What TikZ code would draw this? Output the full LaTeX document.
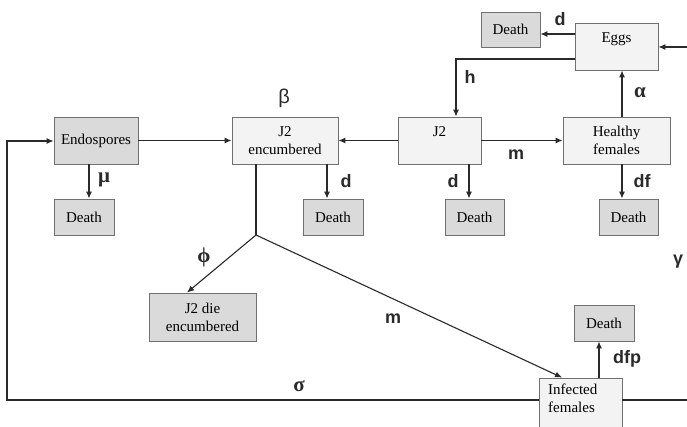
\documentclass[tikz,border=0pt]{standalone}
\usepackage{fontspec}
\setmainfont{Liberation Serif}
\newfontfamily\lblfont{Liberation Sans}
\usetikzlibrary{arrows.meta}
\definecolor{boxlight}{HTML}{F3F3F3}
\definecolor{boxdark}{HTML}{DADADA}
\definecolor{boxline}{HTML}{707070}
\definecolor{ink}{HTML}{2A2A2A}
\begin{document}
\begin{tikzpicture}[x=1pt,y=-1pt,
  box/.style={draw=boxline,line width=0.9pt,fill=boxlight,align=center,
    font=\fontsize{15}{18}\selectfont,inner sep=0pt},
  deadbox/.style={box,fill=boxdark},
  arr/.style={draw=ink,line width=1.1pt,-{Latex[length=7pt,width=6pt]}},
  ln/.style={draw=ink,line width=1.1pt},
  rate/.style={font=\lblfont\bfseries\fontsize{18}{18}\selectfont,text=ink,inner sep=0pt},
  srate/.style={font=\lblfont\fontsize{20}{20}\selectfont,text=ink,inner sep=0pt},
  grate/.style={font=\bfseries\fontsize{21}{21}\selectfont,text=ink,inner sep=0pt}]
\clip (0,0) rectangle (687,426);
\fill[white] (0,0) rectangle (687,426);

% compartments
\node[box,minimum width=83pt,minimum height=47pt] (eggs) at (616.5,46.5) {Eggs\\\mbox{}};
\node[deadbox,minimum width=59pt,minimum height=35pt] (dtop) at (510.5,29.5) {Death};
\node[deadbox,minimum width=84pt,minimum height=47pt] (endo) at (96,140.5) {Endospores};
\node[deadbox,minimum width=60pt,minimum height=36pt] (dendo) at (84,217) {Death};
\node[box,minimum width=106pt,minimum height=47pt] (j2enc) at (285,140.5) {J2\\encumbered};
\node[deadbox,minimum width=60pt,minimum height=36pt] (denc) at (333,217) {Death};
\node[box,minimum width=83pt,minimum height=47pt] (j2) at (439.5,140.5) {J2\\\mbox{}};
\node[deadbox,minimum width=59pt,minimum height=36pt] (dj2) at (474.5,217) {Death};
\node[box,minimum width=107pt,minimum height=47pt] (hf) at (616.5,140.5) {Healthy\\females};
\node[deadbox,minimum width=59pt,minimum height=36pt] (dhf) at (628.5,217) {Death};
\node[deadbox,minimum width=107pt,minimum height=48pt] (j2die) at (202.5,317) {J2 die\\encumbered};
\node[deadbox,minimum width=60pt,minimum height=36pt] (dinf) at (604,323) {Death};
\node[box,minimum width=83pt,minimum height=70pt] (inf) at (580.5,413) {};
\node[font=\fontsize{15}{18}\selectfont,align=left,anchor=north west,inner sep=0pt] (inftxt) at (548,384) {Infected\\females};

% junction points and open ends
\coordinate (split) at (256,235);
\coordinate (eggcorner) at (456,59);
\coordinate (eggin) at (690,47);
\coordinate (loopL) at (7,400);
\coordinate (loopLtop) at (7,141);
\coordinate (outR) at (690,400);

% flows
\draw[arr] (eggs.west |- 0,34) -- (dtop.east |- 0,34);
\draw[arr] (eggs.west |- eggcorner) -- (eggcorner) -- (eggcorner |- j2.north);
\draw[arr] (eggin) -- (eggs.east |- eggin);
\draw[arr] (hf.north -| 622,0) -- (eggs.south -| 622,0);
\draw[arr] (endo.east) -- (j2enc.west);
\draw[arr] (j2.west) -- (j2enc.east);
\draw[arr] (j2.east) -- (hf.west);
\draw[arr] (endo.south -| 89,0) -- (dendo.north -| 89,0);
\draw[arr] (j2enc.south -| 327,0) -- (denc.north -| 327,0);
\draw[arr] (j2.south -| 469,0) -- (dj2.north -| 469,0);
\draw[arr] (hf.south -| 622,0) -- (dhf.north -| 622,0);
\draw[arr] (inf.north -| 599,0) -- (dinf.south -| 599,0);
\draw[ln] (j2enc.south -| split) -- (split);
\draw[arr] (split) -- (j2die.north -| 187,0);
\draw[arr] (split) -- (inf.north -| 562,0);
\draw[arr] (inf.west |- loopL) -- (loopL) -- (loopLtop) -- (endo.west |- loopLtop);
\draw[ln] (inf.east |- outR) -- (outR);

% rate labels
\node[rate] (ld1) at (560,19) {d};
\node[rate] (lh) at (470,77) {h};
\node[grate] (la) at (640,93) {α};
\node[grate] (lmu) at (104,180) {μ};
\node[srate] (lb) at (284,98) {β};
\node[rate] (ld2) at (346,181) {d};
\node[rate] (ld3) at (453,181) {d};
\node[rate] (lm1) at (516,155) {m};
\node[rate] (ldf) at (642,181) {df};
\node[grate] (lphi) at (204,257) {ϕ};
\node[rate] (lm2) at (393,319) {m};
\node[grate] (lsig) at (299,386) {σ};
\node[rate] (ldfp) at (627,359) {dfp};
\node[rate] (lg) at (678,262) {γ};
\end{tikzpicture}
\end{document}
